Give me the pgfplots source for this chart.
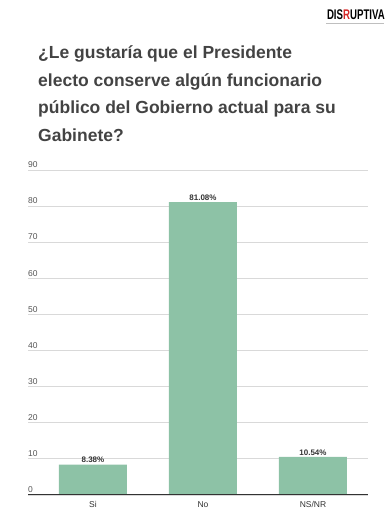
\documentclass[border=0pt]{standalone}
\usepackage{pgfplots}
\pgfplotsset{compat=1.18}
\usepackage{fontspec}
\setmainfont{Liberation Sans}
\definecolor{barcol}{HTML}{8DC2A6}
\definecolor{titlecol}{HTML}{434343}
\definecolor{tickcol}{HTML}{555555}
\definecolor{axcol}{HTML}{333333}
\definecolor{gridcol}{HTML}{D9D9D9}
\definecolor{logored}{HTML}{D62828}
\begin{document}
\begin{tikzpicture}
\useasboundingbox (0,0) rectangle (390bp,517bp);
% title
\begin{scope}[every node/.style={anchor=base west, inner sep=0pt, text=titlecol, font=\fontsize{17.5bp}{20bp}\selectfont\bfseries}]
\node at (38bp,{517bp-59bp}) {¿Le gustaría que el Presidente};
\node at (38bp,{517bp-87bp}) {electo conserve algún funcionario};
\node at (38bp,{517bp-114bp}) {público del Gobierno actual para su};
\node at (38bp,{517bp-142bp}) {Gabinete?};
\end{scope}
% logo
\node[anchor=base east, inner sep=0pt, font=\fontsize{14bp}{14bp}\selectfont\bfseries] at (385bp,{517bp-20bp})
  {\scalebox{0.69}[1]{DIS\textcolor{logored}{R}UPTIVA}};
\draw[gray!50, line width=0.8bp] (326bp,{517bp-23.5bp}) -- (384bp,{517bp-23.5bp});
\begin{axis}[
  at={(28bp,22bp)}, anchor=south west,
  scale only axis, width=340bp, height=325bp,
  xmin=-0.59, xmax=2.5, ymin=0, ymax=90,
  axis line style={draw=none},
  major tick length=0pt,
  ytick={0,10,...,90},
  /pgf/number format/assume math mode=true,
  ymajorgrids, grid style={gridcol, line width=0.8bp},
  yticklabel style={anchor=south west, inner sep=0pt, yshift=2bp, font=\fontsize{8.5bp}{9bp}\selectfont, text=tickcol},
  xtick={0,1,2}, xticklabels={Si,No,NS/NR},
  xticklabel style={yshift=-3bp, font=\fontsize{8.5bp}{9bp}\selectfont, text=axcol},
  ybar, bar width=68bp,
  point meta=explicit symbolic,
  nodes near coords,
  nodes near coords style={font=\fontsize{8bp}{9bp}\selectfont\bfseries, text=axcol, anchor=south, inner sep=1.5bp},
]
\addplot[fill=barcol, draw=none] coordinates {(0,8.38) [8.38\%] (1,81.08) [81.08\%] (2,10.54) [10.54\%]};
\draw[axcol, line width=2bp] (rel axis cs:0,0) -- (rel axis cs:1,0);
\end{axis}
\end{tikzpicture}
\end{document}
